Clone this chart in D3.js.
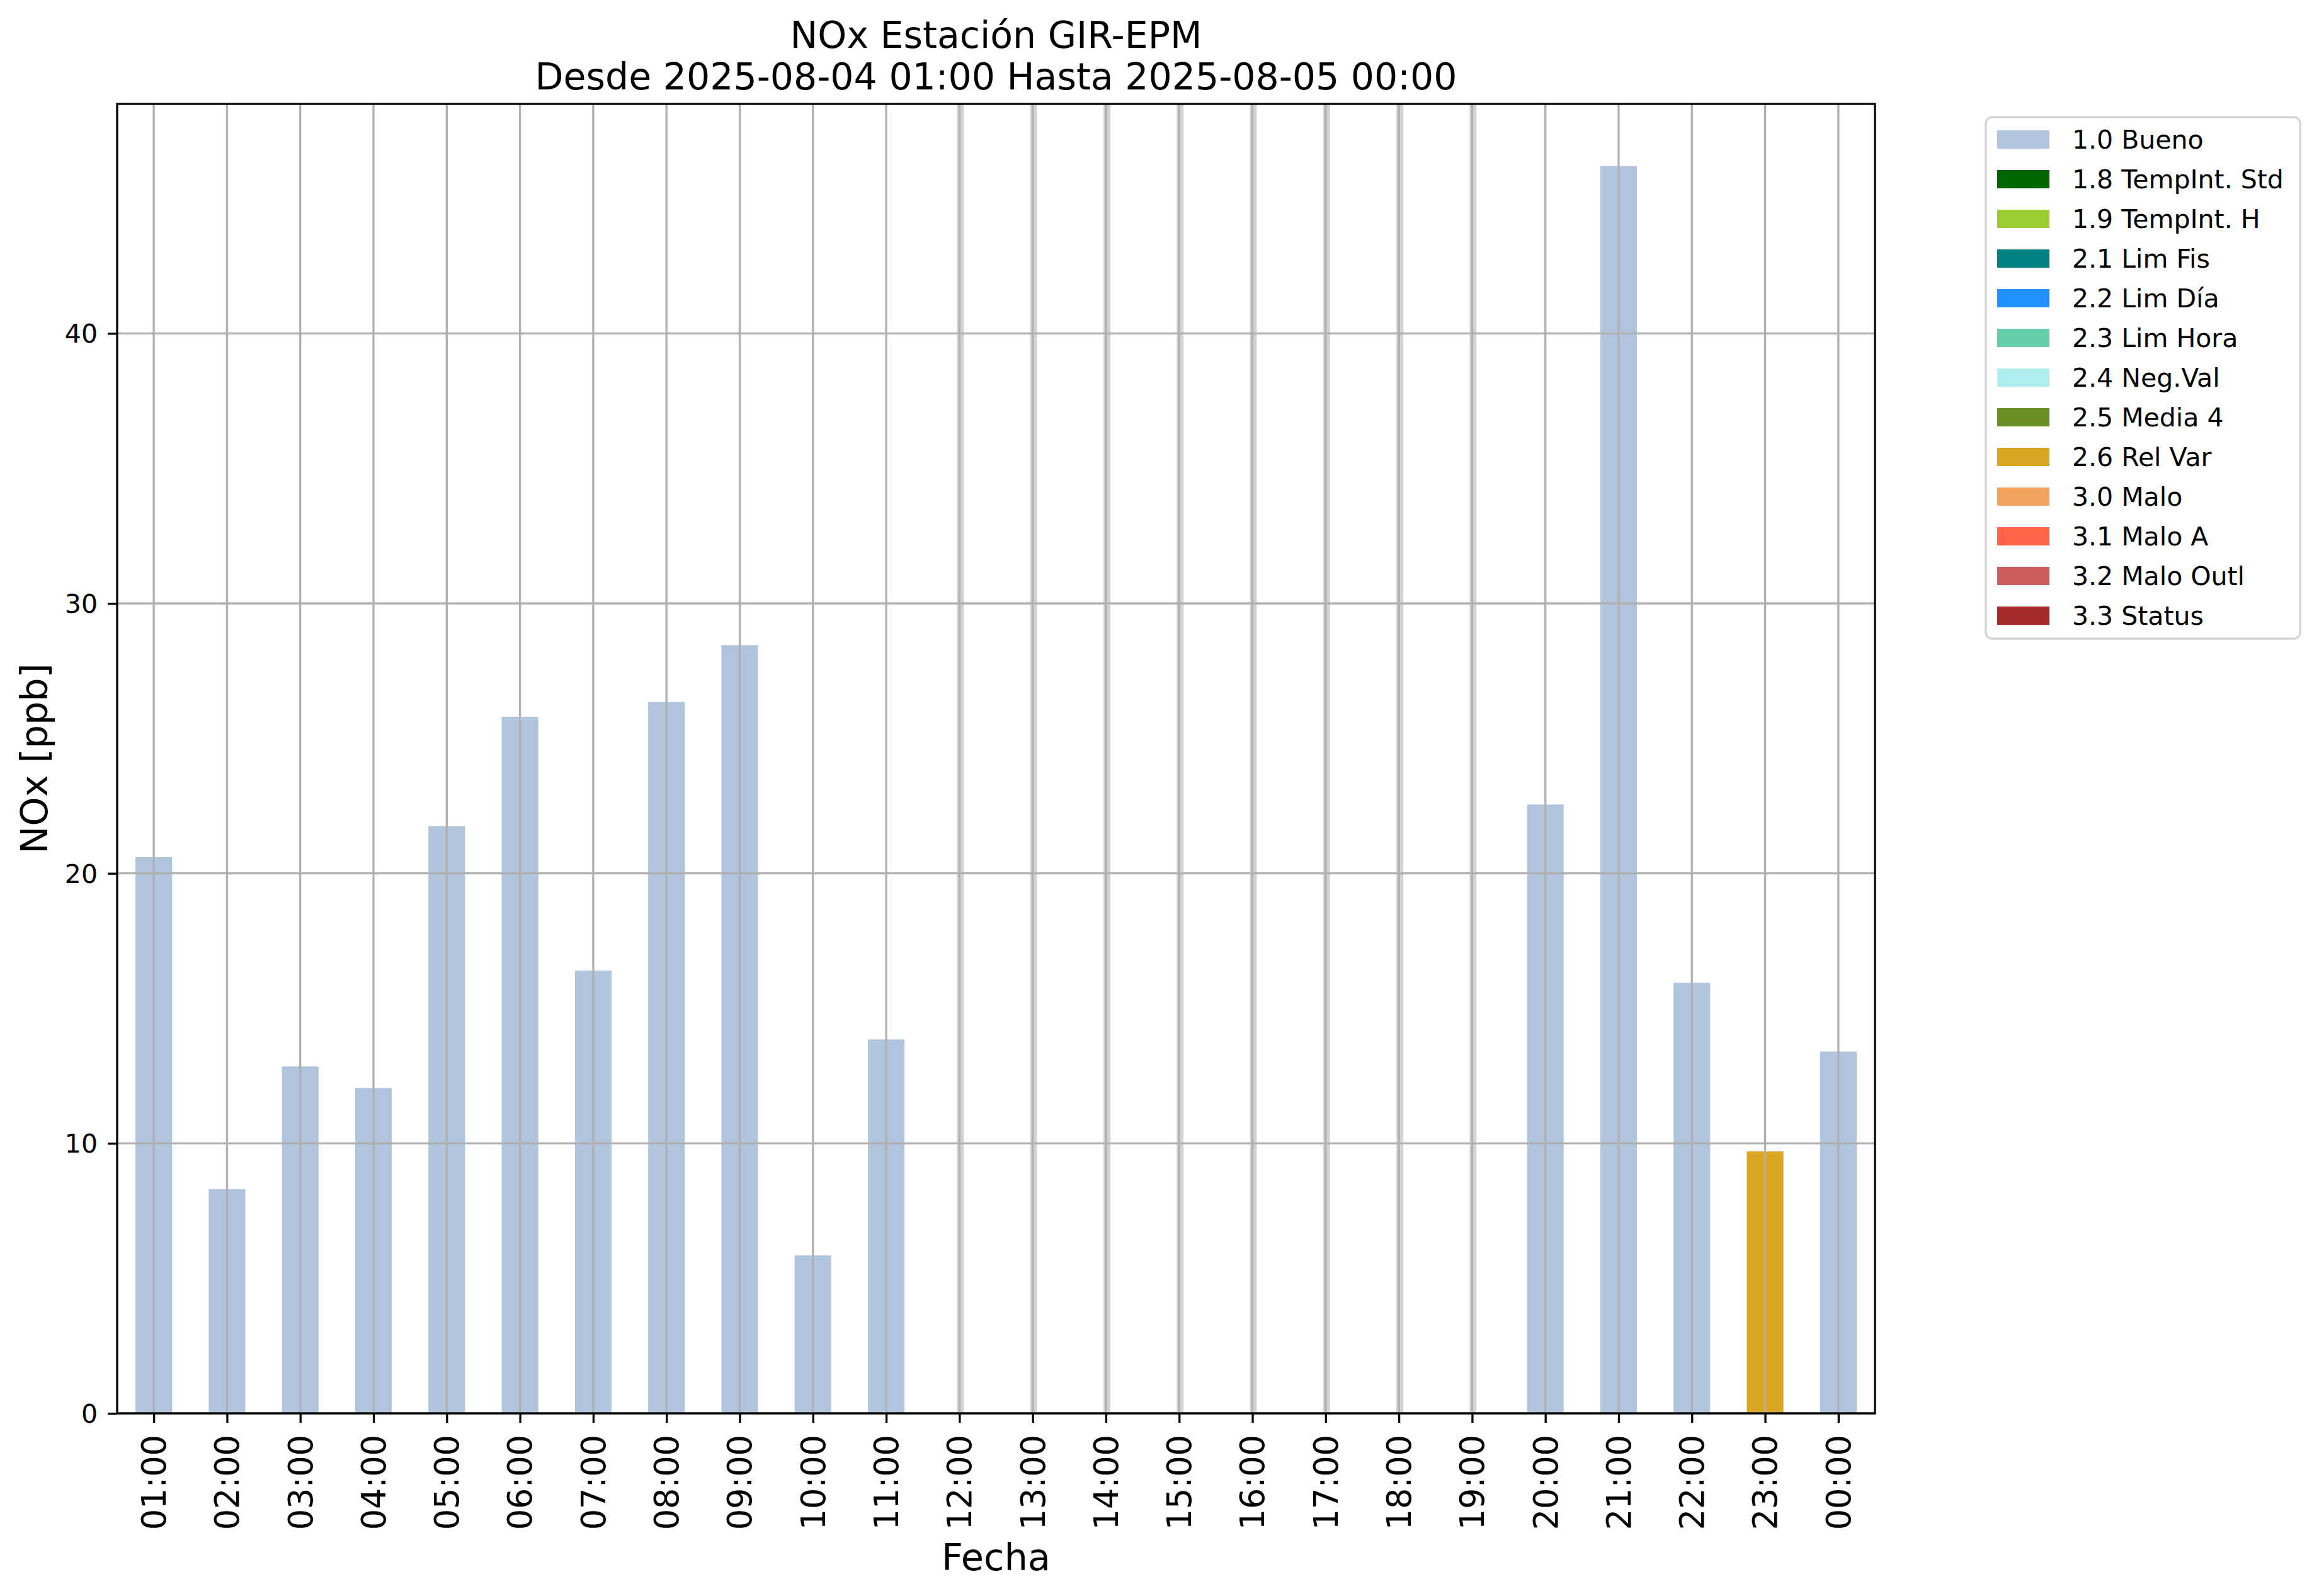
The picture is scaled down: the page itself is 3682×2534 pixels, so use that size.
<!DOCTYPE html>
<html>
<head>
<meta charset="utf-8">
<script src="https://cdn.jsdelivr.net/npm/d3@7"></script>
<style>
  body { margin: 0; background: #fff; }
  text { font-family: "DejaVu Sans", sans-serif; fill: #000; }
</style>
</head>
<body>
<svg id="chart" width="3682" height="2534"></svg>
<script>
// hourly labels, values and quality flag for each hour
const hours = ["01:00", "02:00", "03:00", "04:00", "05:00", "06:00", "07:00", "08:00",
  "09:00", "10:00", "11:00", "12:00", "13:00", "14:00", "15:00", "16:00", "17:00",
  "18:00", "19:00", "20:00", "21:00", "22:00", "23:00", "00:00"];
const noxValues = [20.6, 8.3, 12.85, 12.05, 21.75, 25.8, 16.4, 26.35, 28.45, 5.85, 13.85,
  null, null, null, null, null, null, null, null, 22.55, 46.2, 15.95, 9.7, 13.4];
const flags = ["1.0", "1.0", "1.0", "1.0", "1.0", "1.0", "1.0", "1.0", "1.0", "1.0", "1.0",
  null, null, null, null, null, null, null, null, "1.0", "1.0", "1.0", "2.6", "1.0"];

const flagCodes = ["1.0", "1.8", "1.9", "2.1", "2.2", "2.3", "2.4", "2.5", "2.6", "3.0", "3.1", "3.2", "3.3"];
const flagNames = ["1.0 Bueno", "1.8 TempInt. Std", "1.9 TempInt. H", "2.1 Lim Fis", "2.2 Lim Día",
  "2.3 Lim Hora", "2.4 Neg.Val", "2.5 Media 4", "2.6 Rel Var", "3.0 Malo", "3.1 Malo A",
  "3.2 Malo Outl", "3.3 Status"];
const flagColors = ["#b0c4de", "#006400", "#9acd32", "#008080", "#1e90ff", "#66cdaa", "#afeeee",
  "#6b8e23", "#daa520", "#f4a460", "#ff6347", "#cd5c5c", "#a52a2a"];
const yTicks = [0, 10, 20, 30, 40];

const svg = d3.select("#chart");
const pLeft = 186, pRight = 2977, pTop = 165, pBottom = 2244;

const x = d3.scalePoint().domain(hours).range([pLeft, pRight]).padding(0.5);
const step = x.step();
const y = d3.scaleLinear().domain([0, 48.5]).range([pBottom, pTop]);
const color = d3.scaleOrdinal().domain(flagCodes).range(flagColors);

const rows = hours.map((h, i) => ({hour: h, value: noxValues[i], flag: flags[i]}));

// bars
svg.append("g").selectAll("rect")
  .data(rows.filter(d => d.value != null))
  .join("rect")
  .attr("x", d => x(d.hour) - step * 0.25)
  .attr("width", step * 0.5)
  .attr("y", d => y(d.value))
  .attr("height", d => y(0) - y(d.value))
  .attr("fill", d => color(d.flag));

// missing hours show a faint band around the grid line
svg.append("g").selectAll("rect")
  .data(rows.filter(d => d.value == null))
  .join("rect")
  .attr("x", d => x(d.hour) - 4)
  .attr("width", 11)
  .attr("y", pTop)
  .attr("height", pBottom - pTop)
  .attr("fill", "#d3d3d3");

// grid (drawn above bars, as in the original)
const grid = svg.append("g").attr("stroke", "#b0b0b0").attr("stroke-width", 3.3);
grid.selectAll(".gx").data(hours).join("line")
  .attr("x1", d => x(d)).attr("x2", d => x(d))
  .attr("y1", pTop).attr("y2", pBottom);
grid.selectAll(".gy").data(yTicks).join("line")
  .attr("x1", pLeft).attr("x2", pRight)
  .attr("y1", d => y(d)).attr("y2", d => y(d));

// axes
const xAxis = svg.append("g")
  .attr("transform", "translate(0," + pBottom + ")")
  .call(d3.axisBottom(x).tickSize(15).tickPadding(0));
xAxis.select(".domain").remove();
xAxis.selectAll(".tick line").attr("stroke", "#000").attr("stroke-width", 3.3);
xAxis.selectAll(".tick text")
  .attr("transform", "translate(0,34) rotate(-90)")
  .attr("x", 0).attr("y", 0).attr("dy", "0.35em")
  .attr("text-anchor", "end")
  .style("font-size", "52.5px");

const yAxis = svg.append("g")
  .attr("transform", "translate(" + pLeft + ",0)")
  .call(d3.axisLeft(y).tickValues(yTicks).tickSize(15).tickPadding(16));
yAxis.select(".domain").remove();
yAxis.selectAll(".tick line").attr("stroke", "#000").attr("stroke-width", 3.3);
yAxis.selectAll(".tick text").style("font-size", "41px").attr("dy", "0.35em");

svg.append("rect")
  .attr("x", pLeft).attr("y", pTop)
  .attr("width", pRight - pLeft).attr("height", pBottom - pTop)
  .attr("fill", "none").attr("stroke", "#000").attr("stroke-width", 3.3);

// titles
const cx = (pLeft + pRight) / 2;
svg.append("text").attr("x", cx).attr("y", 76).attr("text-anchor", "middle")
  .style("font-size", "58.5px").text("NOx Estación GIR-EPM");
svg.append("text").attr("x", cx).attr("y", 142).attr("text-anchor", "middle")
  .style("font-size", "58.5px").text("Desde 2025-08-04 01:00 Hasta 2025-08-05 00:00");
svg.append("text").attr("x", cx).attr("y", 2493).attr("text-anchor", "middle")
  .style("font-size", "59px").text("Fecha");
svg.append("text")
  .attr("transform", "translate(75," + (pTop + pBottom) / 2 + ") rotate(-90)")
  .attr("text-anchor", "middle")
  .style("font-size", "59px").text("NOx [ppb]");

// legend
const legend = svg.append("g").attr("transform", "translate(3153,186)");
legend.append("rect")
  .attr("width", 499).attr("height", 828).attr("rx", 10)
  .attr("fill", "#fff").attr("stroke", "#d6d6d6").attr("stroke-width", 3.5);
const item = legend.selectAll(".item").data(flagCodes).join("g")
  .attr("transform", (d, i) => "translate(18," + (21 + i * 63) + ")");
item.append("rect").attr("width", 83).attr("height", 29).attr("fill", d => color(d));
item.append("text").attr("x", 119).attr("y", 29)
  .style("font-size", "41px")
  .text((d, i) => flagNames[i]);
</script>
</body>
</html>
